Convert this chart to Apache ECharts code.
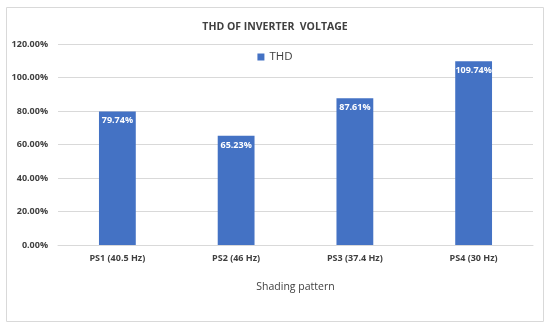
<!DOCTYPE html>
<html><head><meta charset="utf-8">
<script src="https://cdn.jsdelivr.net/npm/echarts@6/dist/echarts.min.js"></script>
<style>html,body{margin:0;padding:0;background:#fff}#c{width:550px;height:329px}</style>
</head><body><div id="c"></div>
<script>
const categories = ['PS1 (40.5 Hz)', 'PS2 (46 Hz)', 'PS3 (37.4 Hz)', 'PS4 (30 Hz)'];
const thdValues = [0.7974, 0.6523, 0.8761, 1.0974];
const seriesName = 'THD';
const chart = echarts.init(document.getElementById('c'));
const pct = v => (v * 100).toFixed(2) + '%';
chart.setOption({
  animation: false,
  textStyle: { fontFamily: 'Open Sans' },
  graphic: [{ type: 'rect', shape: { x: 6.5, y: 7.5, width: 537, height: 314 }, style: { fill: 'none', stroke: '#d9d9d9', lineWidth: 1 } }],
  title: { text: 'THD OF INVERTER  VOLTAGE', left: 'center', top: 17, textStyle: { fontSize: 10.5, fontWeight: 'bold', color: '#404040', fontFamily: 'Open Sans' } },
  legend: { data: [seriesName], top: 46, left: 'center', itemWidth: 7, itemHeight: 7, icon: 'rect', itemGap: 4, textStyle: { fontSize: 11.5, color: '#404040', fontFamily: 'Open Sans' } },
  grid: { left: 58, right: 17, top: 44, bottom: 84 },
  xAxis: {
    type: 'category', data: categories,
    name: 'Shading pattern', nameLocation: 'middle', nameGap: 37,
    nameTextStyle: { fontSize: 10.5, color: '#404040', fontFamily: 'Open Sans' },
    axisLine: { lineStyle: { color: '#d9d9d9' } }, axisTick: { show: false },
    axisLabel: { fontSize: 9, fontWeight: 'bold', color: '#404040', margin: 9 }
  },
  yAxis: {
    type: 'value', min: 0, max: 1.2, interval: 0.2,
    axisLabel: { formatter: pct, fontSize: 9, fontWeight: 'bold', color: '#404040', margin: 10 },
    splitLine: { lineStyle: { color: '#d9d9d9' } }, axisLine: { show: false }, axisTick: { show: false }
  },
  series: [{
    name: seriesName, type: 'bar', data: thdValues, barWidth: '31%',
    itemStyle: { color: '#4472C4' },
    label: { show: true, position: 'insideTop', formatter: p => pct(p.value), color: '#fff', fontSize: 9, fontWeight: 'bold', distance: 5 }
  }]
});
</script></body></html>
